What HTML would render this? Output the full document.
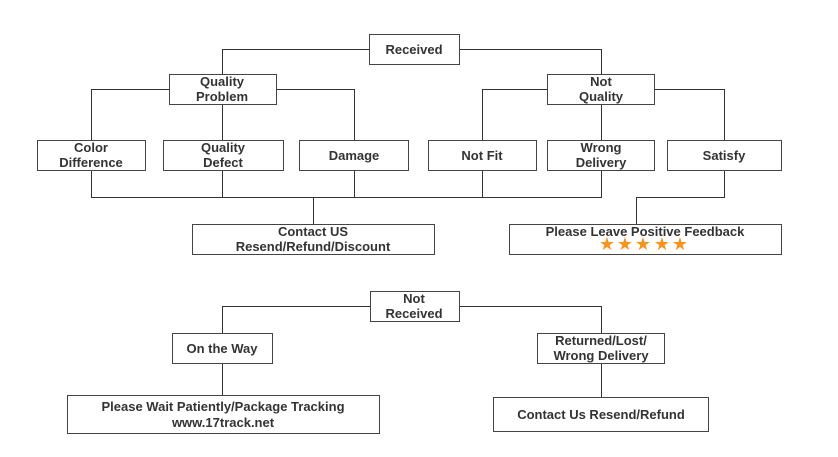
<!DOCTYPE html>
<html><head><meta charset="utf-8"><style>
html,body{margin:0;padding:0;background:#fff;}
svg{display:block;}
text{font-family:"Liberation Sans","DejaVu Sans",sans-serif;font-weight:bold;font-size:13px;fill:#333;text-anchor:middle;}
.b{fill:#fff;stroke:#444;stroke-width:1;}
.s{fill:none;stroke:#aaa;stroke-width:1.5;}
.l{fill:none;stroke:#333;stroke-width:1;}
</style></head><body>
<svg width="838" height="457" viewBox="0 0 838 457" xmlns="http://www.w3.org/2000/svg">
<!-- connectors -->
<g class="l">
<path d="M369.5 49.5H222.5V74"/>
<path d="M459.5 49.5H601.5V74"/>
<path d="M169 89.5H91.5V140"/>
<path d="M277 89.5H354.5V140"/>
<path d="M222.5 104V140"/>
<path d="M547 89.5H482.5V140"/>
<path d="M655 89.5H724.5V140"/>
<path d="M601.5 104V140"/>
<path d="M91.5 170V197.5H601.5V170"/>
<path d="M222.5 170V197.5M354.5 170V197.5M482.5 170V197.5"/>
<path d="M313.5 197.5V224"/>
<path d="M724.5 170V197.5H636.5V224"/>
<path d="M370 306.5H222.5V333"/>
<path d="M459 306.5H601.5V333"/>
<path d="M222.5 363V395"/>
<path d="M601.5 363V397"/>
</g>
<!-- boxes -->
<g>
<rect class="b" x="369.5" y="34.5" width="90" height="30"/>
<rect class="b" x="169.5" y="74.5" width="107" height="30"/>
<rect class="b" x="547.5" y="74.5" width="107" height="30"/>
<rect class="b" x="37.5" y="140.5" width="108" height="30"/>
<rect class="b" x="163.5" y="140.5" width="120" height="30"/>
<rect class="b" x="299.5" y="140.5" width="109" height="30"/>
<rect class="b" x="428.5" y="140.5" width="108" height="30"/>
<rect class="b" x="547.5" y="140.5" width="107" height="30"/>
<rect class="b" x="667.5" y="140.5" width="114" height="30"/>
<rect class="b" x="192.5" y="224.5" width="242" height="30"/>
<rect class="b" x="509.5" y="224.5" width="272" height="30"/>
<rect class="b" x="370.5" y="291.5" width="89" height="30"/>
<rect class="b" x="172.5" y="333.5" width="100" height="30"/>
<rect class="b" x="537.5" y="333.5" width="127" height="30"/>
<rect class="b" x="67.5" y="395.5" width="312" height="38"/>
<rect class="b" x="493.5" y="397.5" width="215" height="34"/>
</g>
<!-- text -->
<text x="414" y="54">Received</text>
<text x="222" y="86">Quality</text><text x="222" y="101">Problem</text>
<text x="601" y="86">Not</text><text x="601" y="101">Quality</text>
<text x="91" y="152">Color</text><text x="91" y="167">Difference</text>
<text x="223" y="152">Quality</text><text x="223" y="167">Defect</text>
<text x="354" y="160">Damage</text>
<text x="482" y="160">Not Fit</text>
<text x="601" y="152">Wrong</text><text x="601" y="167">Delivery</text>
<text x="724" y="160">Satisfy</text>
<text x="313" y="236">Contact US</text><text x="313" y="251">Resend/Refund/Discount</text>
<text x="645" y="236">Please Leave Positive Feedback</text>
<g fill="#f7941d">
<text x="607" y="250" style="fill:#f7941d;font-size:18px">★</text>
<text x="625" y="250" style="fill:#f7941d;font-size:18px">★</text>
<text x="643" y="250" style="fill:#f7941d;font-size:18px">★</text>
<text x="662" y="250" style="fill:#f7941d;font-size:18px">★</text>
<text x="680" y="250" style="fill:#f7941d;font-size:18px">★</text>
</g>
<text x="414" y="303">Not</text><text x="414" y="318">Received</text>
<text x="222" y="353">On the Way</text>
<text x="601" y="345">Returned/Lost/</text><text x="601" y="360">Wrong Delivery</text>
<text x="223" y="411">Please Wait Patiently/Package Tracking</text><text x="223" y="427">www.17track.net</text>
<text x="601" y="419">Contact Us Resend/Refund</text>
</svg>
</body></html>
